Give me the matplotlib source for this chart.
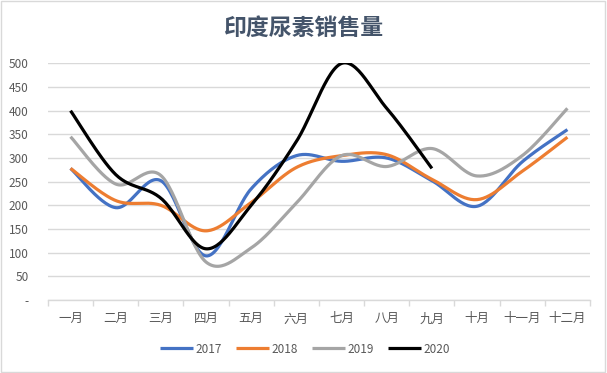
import numpy as np
import matplotlib.pyplot as plt
from matplotlib.patches import Rectangle

plt.rcParams['font.family'] = ['Noto Sans CJK SC', 'DejaVu Sans']

months = ['一月', '二月', '三月', '四月', '五月', '六月',
          '七月', '八月', '九月', '十月', '十一月', '十二月']
sales_2017 = [278, 195, 252, 93, 235, 305, 293, 300, 252, 198, 292, 360]
sales_2018 = [278, 210, 200, 146, 206, 280, 305, 307, 255, 212, 272, 344]
sales_2019 = [345, 245, 263, 80, 110, 205, 305, 282, 320, 262, 305, 405]
sales_2020 = [400, 265, 215, 108, 200, 335, 500, 405, 278]
years = ['2017', '2018', '2019', '2020']
colors = ['#4472C4', '#ED7D31', '#A5A5A5', '#000000']


def smooth(vals, n=30):
    # catmull-rom curve, like the "smoothed line" option in Excel
    p = np.array(vals, dtype=float)
    x = np.arange(len(p), dtype=float)
    pts = np.column_stack([x, p])
    pts = np.vstack([pts[0], pts, pts[-1]])
    out = []
    t = np.linspace(0, 1, n)[:, None]
    for i in range(1, len(pts) - 2):
        p0, p1, p2, p3 = pts[i - 1], pts[i], pts[i + 1], pts[i + 2]
        c1 = p1 + (p2 - p0) / 6
        c2 = p2 - (p3 - p1) / 6
        seg = ((1 - t) ** 3) * p1 + 3 * ((1 - t) ** 2) * t * c1 \
            + 3 * (1 - t) * t ** 2 * c2 + t ** 3 * p2
        out.append(seg)
    out = np.vstack(out)
    return out[:, 0], out[:, 1]


fig = plt.figure(figsize=(6.07, 3.73), dpi=100)
ax = fig.add_axes([0.079, 0.196, 0.893, 0.634])

for serie, year, c in zip([sales_2017, sales_2018, sales_2019, sales_2020], years, colors):
    xs, ys = smooth(serie)
    ax.plot(xs, ys, color=c, linewidth=2.3, label=year, solid_capstyle='butt')

ax.set_xlim(-0.5, 11.5)
ax.set_ylim(0, 500)
ax.set_yticks(range(0, 501, 50))
ax.set_yticklabels(['-'] + [str(v) for v in range(50, 501, 50)])
ax.set_xticks(range(12))
ax.set_xticklabels(months)
ax.set_xticks(np.arange(-0.5, 12, 1), minor=True)
ax.tick_params(axis='x', which='major', length=0, pad=9, labelsize=9, labelcolor='#595959')
ax.tick_params(axis='x', which='minor', length=4, color='#D9D9D9', width=1)
ax.tick_params(axis='y', length=0, pad=14, labelsize=8.5, labelcolor='#595959')

ax.grid(axis='y', color='#D9D9D9', linewidth=1)
ax.set_axisbelow(True)
for s in ['top', 'right', 'left']:
    ax.spines[s].set_visible(False)
ax.spines['bottom'].set_color('#D9D9D9')
ax.spines['bottom'].set_linewidth(1)

fig.text(0.5, 0.925, '印度尿素销售量', ha='center', va='center',
         fontsize=16.5, fontweight='bold', color='#44546A')

fig.legend(loc='center', bbox_to_anchor=(0.503, 0.064), ncol=4, frameon=False,
           fontsize=8.5, handlelength=2.8, handletextpad=0.2, columnspacing=1.2,
           labelcolor='#595959')

fig.add_artist(Rectangle((0.002, 0.003), 0.995, 0.994, transform=fig.transFigure,
                         fill=False, edgecolor='#D9D9D9', linewidth=1))

fig.savefig('out.png', dpi=100)
